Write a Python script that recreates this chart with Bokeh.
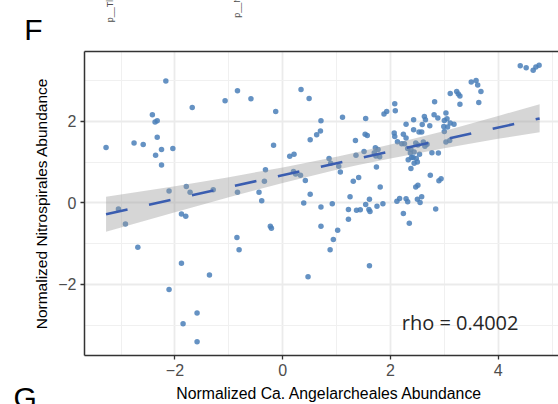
from bokeh.plotting import figure
from bokeh.layouts import column
from bokeh.models import FixedTicker, LinearAxis, Label, Range1d
from bokeh.embed import file_html
from bokeh.resources import INLINE
from bokeh.core.properties import value

# ---- data ----
x_vals = [-3.28, -2.76, -2.59, -2.42, -2.37, -2.33, -2.33, -2.25, -2.36, -2.25,
          -2.17, -2.04, -1.68, -1.07, -0.84, -0.59, -0.13, -0.17, 0.13, 0.21,
          0.34, -0.32, -0.34, 0.20, 0.24, 0.33, -2.11, -1.79, -1.72, -1.29,
          -0.84, -0.44, -0.39, -3.05, -2.92, -1.88, -1.80, -0.23, -0.21, -0.85,
          -0.81, -2.69, -1.88, -1.36, -2.11, -1.59, -1.85, -1.59,
          0.39, 0.42, 0.47, 0.49, 0.51, 0.51, 0.63, 0.70, 0.71, 0.71,
          0.71, 0.86, 0.89, 0.92, 0.94, 0.88, 1.04, 1.07, 1.02, 1.11,
          1.22, 1.22, 1.25, 1.31, 1.35, 1.36, 1.37, 1.41, 1.44, 1.51,
          1.53, 1.57, 1.54, 1.54, 1.61, 1.60, 1.62, 1.61, 1.70, 1.73,
          1.72, 1.77, 1.74, 1.75, 1.81, 1.80, 1.86, 1.88, 1.93, 2.08,
          2.09, 2.07, 2.08, 2.12, 2.13, 2.17, 2.21, 2.24, 2.24, 2.26,
          2.29, 2.29, 2.29, 2.32, 2.32, 2.33, 2.35, 2.37, 2.38, 2.39,
          2.38, 2.42, 2.43, 2.43, 2.44, 2.44, 2.47, 2.48, 2.47, 2.50,
          2.50, 2.51, 2.51, 2.53, 2.54, 2.55, 2.58, 2.58, 2.61, 2.63,
          2.65, 2.64, 2.68, 2.73, 2.74, 2.59, 2.77, 2.89, 2.82, 2.81,
          2.88, 3.03, 3.05, 3.00, 3.11, 3.18, 3.06, 2.99, 3.00, 3.03,
          3.10, 3.11, 3.23, 3.26, 3.29, 3.29, 3.50, 3.59, 3.62, 3.68,
          3.64, 4.41, 4.52, 4.65, 4.70, 4.76, 2.90, 2.94, 2.84]
y_vals = [1.36, 1.47, 1.43, 2.16, 1.98, 2.01, 1.61, 1.31, 1.17, 0.93,
          2.99, 1.33, 2.34, 2.50, 2.75, 2.55, 2.24, 1.41, 1.14, 1.19,
          2.78, 0.81, 0.53, 0.77, 0.71, 0.68, 0.29, 0.40, 0.26, 0.32,
          0.26, 0.26, 0.05, -0.15, -0.52, -0.27, -0.33, -0.57, -0.62, -0.85,
          -1.15, -1.09, -1.48, -1.77, -2.12, -2.70, -2.96, -3.40,
          0.00, 0.55, -1.81, 2.56, 1.55, 0.21, 1.67, 1.76, 2.01, -0.10,
          -0.57, 1.09, 0.97, -0.02, -0.90, -1.15, 0.90, 0.76, -0.67, 2.10,
          -0.16, -0.40, 0.15, 0.53, 1.53, 1.17, -0.18, 0.62, -0.17, 1.26,
          1.68, 1.65, 2.07, -0.04, 0.09, -0.16, -0.21, -1.54, 1.23, 1.15,
          1.35, 1.31, 0.88, -0.08, 0.39, 1.13, -0.02, 2.18, 2.24, 2.43,
          2.26, 1.71, 1.63, 0.04, 1.50, 0.11, 1.45, -0.26, 1.68, 1.45,
          1.93, 1.59, 0.10, 0.03, 1.33, 1.06, -0.50, 1.22, 1.31, 1.11,
          0.84, 1.11, 2.04, 1.79, 1.25, 0.97, 1.47, 1.09, 0.39, 1.00,
          0.09, 0.43, 1.42, 1.74, 1.19, 0.01, 1.74, 0.15, 1.49, 2.12,
          2.04, 1.39, 1.44, 1.89, 0.68, 1.92, 1.23, 1.22, 2.48, 2.16,
          2.08, 2.20, 2.06, 2.02, 1.96, 1.93, 1.86, 1.87, 1.75, 1.49,
          1.53, 2.68, 2.73, 2.67, 2.62, 2.42, 2.96, 3.00, 2.89, 2.73,
          2.46, 3.36, 3.31, 3.25, 3.33, 3.37, 0.54, 0.59, -0.15]

fit_x = [-3.28, 4.77]
fit_y = [-0.28, 2.07]
band_x = [-3.28, -2.0, -1.0, 0.0, 1.0, 1.4, 2.0, 3.0, 4.0, 4.77]
band_lower = [-0.71, -0.23, 0.14, 0.49, 0.81, 0.93, 1.09, 1.34, 1.57, 1.73]
band_upper = [0.15, 0.41, 0.63, 0.87, 1.13, 1.25, 1.43, 1.76, 2.13, 2.42]

x_ticks = [-2, 0, 2, 4]
x_minor = [-3, -1, 1, 3, 5]
y_ticks = [-2, 0, 2]
y_minor = [-3, -1, 1, 3]
x_tick_labels = {-2: "\u22122", 0: "0", 2: "2", 4: "4"}
y_tick_labels = {-2: "\u22122", 0: "0", 2: "2"}

x_title = "Normalized Ca. Angelarcheales Abundance"
y_title = "Normalized Nitrospirales Abundance"
rho_text = "rho = 0.4002"
panel_tags = ["F", "G"]
top_fragments = ["p__Thaumarchaeota", "p__Nitrospirota"]

FONT = "Liberation Sans"
W = 558

# ---- header strip (panel tag + fragments of the panel above) ----
head = figure(width=W, height=49, x_range=Range1d(-5.24, 5.12),
              y_range=Range1d(3.76, 4.96), output_backend="svg",
              toolbar_location=None, x_axis_type=None, y_axis_type=None,
              min_border=0, outline_line_color=None, frame_align=False)
head.text(x=[-4.80], y=[4.25], text=[panel_tags[0]], text_font=value(FONT),
          text_font_size="30px", text_color="black", text_baseline="alphabetic")
head.text(x=[-3.215, -0.84], y=[4.43, 4.54], text=top_fragments, angle=1.5708,
          text_font=value(FONT), text_font_size="9px", text_color="#4D4D4D",
          text_baseline="middle", text_align="left")

# ---- main panel ----
p = figure(width=W, height=334,
           x_range=Range1d(-3.68, 5.12), y_range=Range1d(-3.74, 3.71),
           output_backend="svg", toolbar_location=None,
           min_border_left=84, min_border_right=0,
           min_border_top=2, min_border_bottom=28, frame_align=False)
p.background_fill_color = "white"
p.border_fill_color = "white"
p.outline_line_color = None

for ax, ticks, minor, labels in ((p.xaxis, x_ticks, x_minor, x_tick_labels),
                                 (p.yaxis, y_ticks, y_minor, y_tick_labels)):
    ax.ticker = FixedTicker(ticks=ticks, minor_ticks=minor)
    ax.major_label_overrides = labels
    ax.axis_line_color = "#333333"
    ax.axis_line_width = 1.5
    ax.major_tick_line_color = "#333333"
    ax.major_tick_line_width = 1.3
    ax.major_tick_out = 4
    ax.major_tick_in = 0
    ax.minor_tick_line_color = None
    ax.major_label_text_font = FONT
    ax.major_label_text_font_size = "16px"
    ax.major_label_text_color = "#4D4D4D"
    ax.major_label_standoff = 4

p.yaxis.axis_label = y_title
p.yaxis.axis_label_text_font = FONT
p.yaxis.axis_label_text_font_size = "15.5px"
p.yaxis.axis_label_text_font_style = "normal"
p.yaxis.axis_label_text_color = "black"
p.yaxis.axis_label_standoff = 5

top_axis = LinearAxis(ticker=FixedTicker(ticks=[]), axis_line_color="#333333",
                      axis_line_width=1.5, major_tick_line_color=None,
                      minor_tick_line_color=None, major_tick_out=0,
                      major_label_standoff=0)
p.add_layout(top_axis, "above")

for g in (p.xgrid, p.ygrid):
    g.grid_line_color = "#EBEBEB"
    g.grid_line_width = 1.8
    g.minor_grid_line_color = "#F0F0F0"
    g.minor_grid_line_width = 1.0

p.scatter(x_vals, y_vals, size=5.5, fill_color="#4A7FB9", line_color=None,
          fill_alpha=0.85)
p.varea(x=band_x, y1=band_lower, y2=band_upper, fill_color="#999999",
        fill_alpha=0.4)
p.line(fit_x, fit_y, line_color="#3A5DB0", line_width=2.6, line_dash="22 22")

p.add_layout(Label(x=2.21, y=-2.93, text=rho_text, text_font="Open Sans",
                   text_font_size="20px", text_color="#262626",
                   text_baseline="alphabetic"))

# ---- footer strip (x-axis title + next panel tag) ----
foot = figure(width=W, height=21, x_range=Range1d(-5.24, 5.12),
              y_range=Range1d(-4.92, -4.41), output_backend="svg",
              toolbar_location=None, x_axis_type=None, y_axis_type=None,
              min_border=0, outline_line_color=None, frame_align=False)
foot.text(x=[0.87], y=[-4.65], text=[x_title], text_font=value(FONT),
          text_font_size="15.8px", text_color="black", text_align="center",
          text_baseline="middle")
foot.text(x=[-5.00], y=[-4.75], text=[panel_tags[1]], text_font=value(FONT),
          text_font_size="30px", text_color="black", text_baseline="alphabetic")

layout = column(head, p, foot, spacing=0)
open("out.html", "w").write(file_html(layout, INLINE))
